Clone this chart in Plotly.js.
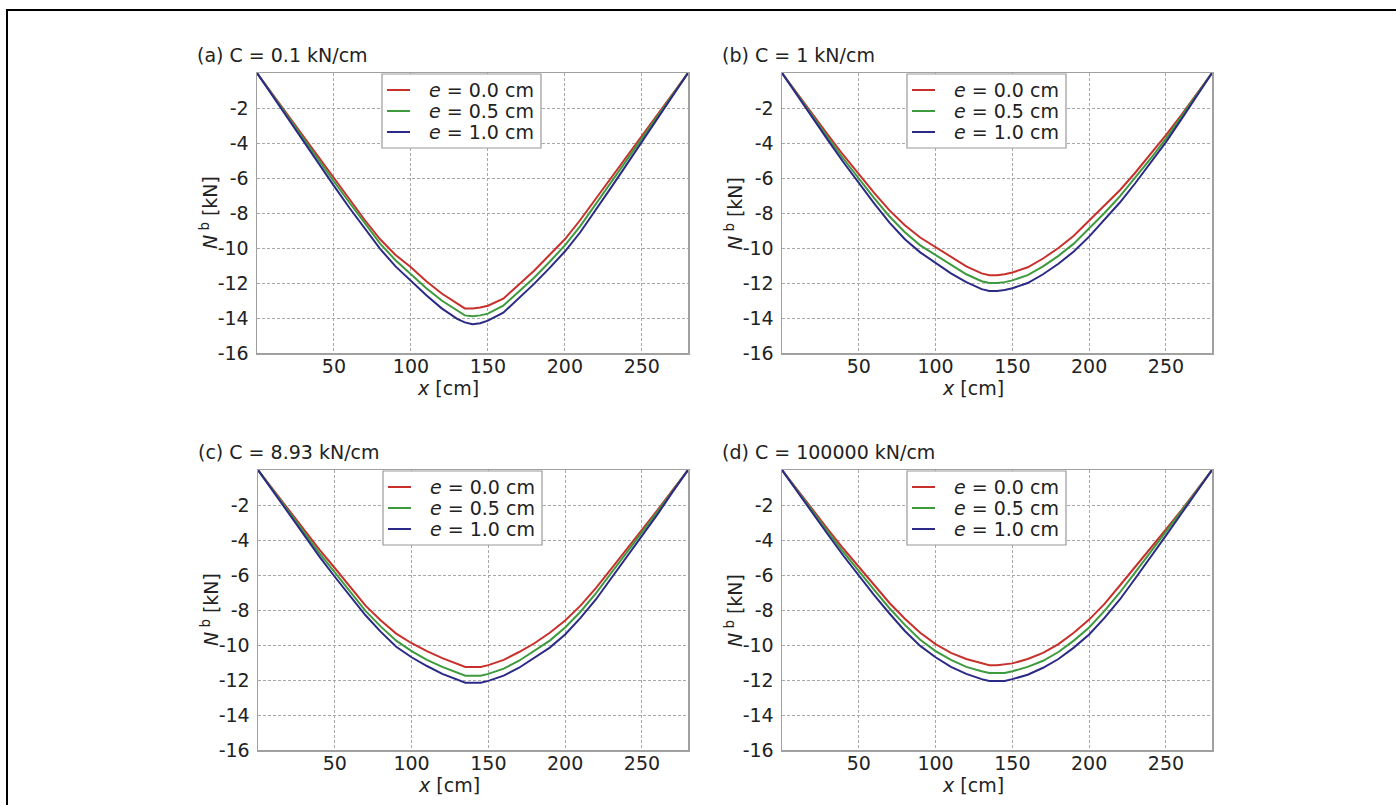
<!DOCTYPE html>
<html>
<head>
<meta charset="utf-8">
<script src="https://cdn.plot.ly/plotly-3.0.1.min.js"></script>
<style>
html,body{margin:0;padding:0;background:#fff;}
#chart{width:1396px;height:805px;}
</style>
</head>
<body>
<div id="chart"></div>
<script>
// ---- data ----
const xPos = [0,10,20,30,40,50,60,70,80,90,100,110,120,130,135,140,145,150,160,170,180,190,200,210,220,230,240,250,260,270,280];

const panelTitles = ['(a) C = 0.1 kN/cm','(b) C = 1 kN/cm','(c) C = 8.93 kN/cm','(d) C = 100000 kN/cm'];
const seriesNames = ['<i>e</i> = 0.0 cm','<i>e</i> = 0.5 cm','<i>e</i> = 1.0 cm'];

const a_e00 = [0,-1.2,-2.4,-3.6,-4.8,-6.0,-7.2,-8.4,-9.5,-10.4,-11.1,-11.9,-12.6,-13.2,-13.45,-13.45,-13.4,-13.3,-12.9,-12.1,-11.3,-10.4,-9.5,-8.4,-7.2,-6.0,-4.8,-3.6,-2.4,-1.2,0];
const a_e05 = [0,-1.25,-2.5,-3.75,-5.0,-6.2,-7.4,-8.6,-9.75,-10.7,-11.5,-12.3,-13.0,-13.6,-13.85,-13.9,-13.85,-13.75,-13.3,-12.5,-11.7,-10.8,-9.85,-8.75,-7.5,-6.25,-5.0,-3.75,-2.5,-1.25,0];
const a_e10 = [0,-1.3,-2.6,-3.9,-5.2,-6.45,-7.7,-8.9,-10.05,-11.05,-11.9,-12.7,-13.45,-14.05,-14.25,-14.35,-14.3,-14.15,-13.7,-12.9,-12.05,-11.15,-10.2,-9.1,-7.85,-6.55,-5.25,-3.95,-2.65,-1.3,0];

const b_e00 = [0,-1.2,-2.4,-3.55,-4.7,-5.8,-6.85,-7.85,-8.7,-9.4,-9.95,-10.55,-11.05,-11.45,-11.55,-11.55,-11.5,-11.4,-11.1,-10.6,-10.0,-9.3,-8.45,-7.6,-6.7,-5.7,-4.65,-3.55,-2.4,-1.2,0];
const b_e05 = [0,-1.25,-2.5,-3.7,-4.9,-6.05,-7.15,-8.2,-9.1,-9.85,-10.4,-11.0,-11.5,-11.9,-12.0,-12.0,-11.95,-11.85,-11.55,-11.05,-10.45,-9.75,-8.9,-8.0,-7.05,-6.0,-4.9,-3.75,-2.5,-1.25,0];
const b_e10 = [0,-1.3,-2.6,-3.85,-5.1,-6.3,-7.45,-8.55,-9.5,-10.25,-10.85,-11.45,-11.95,-12.35,-12.45,-12.45,-12.4,-12.3,-12.0,-11.5,-10.9,-10.2,-9.35,-8.4,-7.4,-6.3,-5.15,-3.95,-2.65,-1.3,0];

const c_e00 = [0,-1.15,-2.3,-3.45,-4.55,-5.6,-6.7,-7.75,-8.6,-9.35,-9.9,-10.35,-10.75,-11.1,-11.25,-11.25,-11.25,-11.15,-10.85,-10.4,-9.9,-9.3,-8.6,-7.75,-6.75,-5.65,-4.55,-3.45,-2.3,-1.15,0];
const c_e05 = [0,-1.2,-2.4,-3.6,-4.75,-5.85,-6.95,-8.05,-8.95,-9.75,-10.35,-10.85,-11.25,-11.6,-11.75,-11.75,-11.75,-11.65,-11.35,-10.9,-10.35,-9.75,-9.0,-8.1,-7.05,-5.9,-4.75,-3.6,-2.4,-1.2,0];
const c_e10 = [0,-1.25,-2.5,-3.75,-4.95,-6.1,-7.2,-8.3,-9.25,-10.1,-10.7,-11.2,-11.65,-12.0,-12.15,-12.15,-12.15,-12.05,-11.75,-11.3,-10.75,-10.15,-9.4,-8.45,-7.4,-6.2,-5.0,-3.8,-2.55,-1.25,0];

const d_e00 = [0,-1.15,-2.3,-3.4,-4.5,-5.55,-6.6,-7.6,-8.5,-9.3,-9.95,-10.45,-10.8,-11.05,-11.15,-11.15,-11.1,-11.05,-10.8,-10.45,-9.95,-9.3,-8.55,-7.65,-6.6,-5.55,-4.5,-3.4,-2.3,-1.15,0];
const d_e05 = [0,-1.2,-2.4,-3.55,-4.7,-5.8,-6.85,-7.9,-8.85,-9.7,-10.35,-10.85,-11.25,-11.5,-11.6,-11.6,-11.6,-11.5,-11.25,-10.9,-10.4,-9.75,-9.0,-8.05,-7.0,-5.85,-4.7,-3.55,-2.4,-1.2,0];
const d_e10 = [0,-1.25,-2.5,-3.7,-4.9,-6.05,-7.15,-8.2,-9.2,-10.05,-10.7,-11.25,-11.65,-11.95,-12.05,-12.05,-12.05,-11.95,-11.7,-11.3,-10.8,-10.15,-9.4,-8.45,-7.4,-6.2,-5.0,-3.75,-2.5,-1.25,0];

const xTickVals = [50,100,150,200,250];
const xTickText = ['50','100','150','200','250'];
const yTickVals = [-2,-4,-6,-8,-10,-12,-14,-16];
const yTickText = ['-2','-4','-6','-8','-10','-12','-14','-16'];

// ---- build ----
const W = 1396, H = 805;
const colors = ['#c8302c','#3d9a3d','#2b2a86'];
const panelData = [[a_e00,a_e05,a_e10],[b_e00,b_e05,b_e10],[c_e00,c_e05,c_e10],[d_e00,d_e05,d_e10]];
// pixel boxes [left,right,top,bottom]
const boxes = [[257,688,73,353],[782,1212,73,353],[258,688,470,750],[782,1212,470,750]];
const FONT = 'DejaVu Sans, Verdana, sans-serif';
const FS = 19;

const traces = [];
const layout = {
  width: W, height: H,
  margin: {l:0,r:0,t:0,b:0},
  paper_bgcolor:'#fff', plot_bgcolor:'#fff',
  showlegend: false,
  font: {family: FONT, size: FS, color:'#222'},
  annotations: [], shapes: []
};
const px = (v) => v / W;
const py = (v) => 1 - v / H;

panelData.forEach((ser, p) => {
  const n = p+1;
  const xa = n===1 ? 'x' : 'x'+n;
  const ya = n===1 ? 'y' : 'y'+n;
  ser.forEach((vals, s) => {
    traces.push({
      x: xPos, y: vals, type:'scatter', mode:'lines',
      name: seriesNames[s], xaxis: xa, yaxis: ya,
      line: {color: colors[s], width: 2}
    });
  });
  const [l,r,t,b] = boxes[p];
  const axCommon = {
    showgrid:true, gridcolor:'#a8a8a8', griddash:'3px,2px', gridwidth:1,
    zeroline:false, showline:true, mirror:true, linecolor:'#a0a0a0', linewidth:1.5,
    ticks:'', tickfont:{family:FONT,size:FS,color:'#222'}, fixedrange:true
  };
  layout['xaxis'+(n===1?'':n)] = Object.assign({}, axCommon, {
    domain:[px(l), px(r)], range:[0,280], anchor: ya,
    tickmode:'array', tickvals:xTickVals, ticktext:xTickText, ticklabelstandoff:-4
  });
  layout['yaxis'+(n===1?'':n)] = Object.assign({}, axCommon, {
    domain:[py(b), py(t)], range:[-16,0], anchor: xa,
    tickmode:'array', tickvals:yTickVals, ticktext:yTickText, ticklabelstandoff: 3
  });

  // legend box (drawn like the reference: compact rows)
  layout.shapes.push({type:'rect', xref:'paper', yref:'paper',
    x0:px(l+125), x1:px(l+284), y0:py(t+1), y1:py(t+75),
    fillcolor:'#fff', line:{color:'#999', width:1.2}, layer:'above'});
  seriesNames.forEach((nm, s) => {
    const rowY = t + 17 + s*21;
    layout.shapes.push({type:'line', xref:'paper', yref:'paper',
      x0:px(l+130), x1:px(l+153), y0:py(rowY), y1:py(rowY),
      line:{color:colors[s], width:2}, layer:'above'});
    layout.annotations.push({text:nm, xref:'paper', yref:'paper',
      x:px(l+170), y:py(rowY), xanchor:'left', yanchor:'middle',
      showarrow:false, font:{family:FONT,size:FS,color:'#222'}});
  });

  // panel title
  layout.annotations.push({
    text: panelTitles[p], xref:'paper', yref:'paper',
    x: px(l-62), y: py(t-18), xanchor:'left', yanchor:'middle',
    showarrow:false, font:{family:FONT,size:FS,color:'#222'}
  });
  // x axis title
  layout.annotations.push({
    text: '<i>x</i> [cm]', xref:'paper', yref:'paper',
    x: px(l+191), y: py(b+35), xanchor:'center', yanchor:'middle',
    showarrow:false, font:{family:FONT,size:FS,color:'#222'}
  });
  // y axis title
  layout.annotations.push({
    text: '<i>N</i><sup> b</sup> [kN]', xref:'paper', yref:'paper',
    x: px(l-48), y: py((t+b)/2), xanchor:'center', yanchor:'middle',
    textangle:-90, showarrow:false, font:{family:FONT,size:FS,color:'#222'}
  });
});

// outer frame (top and left edges)
layout.shapes.push({type:'line', xref:'paper', yref:'paper', x0:px(6), x1:1.01, y0:py(10), y1:py(10), line:{color:'#000',width:2}});
layout.shapes.push({type:'line', xref:'paper', yref:'paper', x0:px(7), x1:px(7), y0:py(9), y1:-0.01, line:{color:'#000',width:2}});

Plotly.newPlot('chart', traces, layout, {displayModeBar:false, staticPlot:true});
</script>
</body>
</html>
